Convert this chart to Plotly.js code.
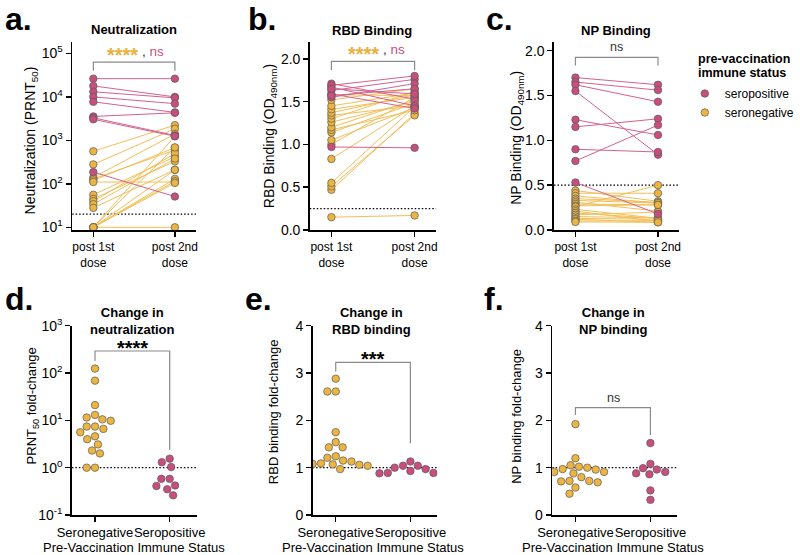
<!DOCTYPE html>
<html><head><meta charset="utf-8">
<script src="https://cdn.plot.ly/plotly-3.0.1.min.js"></script>
<style>html,body{margin:0;padding:0;background:#fff}</style>
</head><body><div id="chart" style="width:800px;height:555px"></div>
<script>
// ---------------- DATA ----------------
const doseLabels = ['post 1st<br>dose', 'post 2nd<br>dose'];
const groupLabels = ['Seronegative', 'Seropositive'];
const seriesNames = ['seropositive', 'seronegative'];

// a. Neutralization (PRNT50)
const neutPos1 = [26300, 17900, 13100, 10000, 7700, 3550, 3300, 3050, 186];
const neutPos2 = [26300, 10000, 9500, 7000, 4400, 4300, 1300, 1250, 51];
const neutNeg1 = [560, 280, 140, 130, 120, 110, 56, 45, 40, 34, 28, 10, 10, 10, 10, 10, 10, 10];
const neutNeg2 = [2240, 1850, 1400, 600, 680, 110, 420, 330, 500, 380, 210, 1240, 690, 210, 130, 115, 105, 10];
const neutExps = [1, 2, 3, 4, 5];
const neutThreshold = 20;

// b. RBD Binding (OD490nm)
const rbdPos1 = [1.71, 1.67, 1.63, 1.59, 1.55, 1.69, 1.57, 1.65, 0.97];
const rbdPos2 = [1.53, 1.45, 1.76, 1.42, 1.71, 1.80, 1.65, 1.59, 0.96];
const rbdNeg1 = [0.15, 0.47, 0.51, 0.55, 0.83, 1.00, 1.05, 1.14, 1.17, 1.20, 1.26, 1.30, 1.34, 1.37, 1.41, 1.45, 1.52, 1.58];
const rbdNeg2 = [0.17, 1.36, 1.34, 1.44, 1.45, 1.55, 1.43, 1.48, 1.40, 1.52, 1.50, 1.62, 1.45, 1.58, 1.55, 1.60, 1.65, 1.57];
const rbdThreshold = 0.25;

// c. NP Binding (OD490nm)
const npPos1 = [1.70, 1.65, 1.62, 1.55, 1.23, 1.15, 0.90, 0.77, 0.53];
const npPos2 = [1.62, 1.56, 1.43, 0.84, 1.06, 1.24, 0.87, 1.17, 0.18];
const npNeg1 = [0.44, 0.41, 0.38, 0.35, 0.33, 0.31, 0.29, 0.27, 0.26, 0.23, 0.21, 0.19, 0.17, 0.15, 0.13, 0.12, 0.10, 0.09];
const npNeg2 = [0.32, 0.41, 0.30, 0.31, 0.30, 0.21, 0.28, 0.28, 0.50, 0.13, 0.095, 0.13, 0.20, 0.135, 0.12, 0.086, 0.105, 0.086];
const npThreshold = 0.5;

// d. PRNT50 fold-change
const neutFoldNeg = [9.8, 5.6, 10.5, 7.4, 4.6, 3.1, 2.0, 1.0, 124, 69, 21, 13, 7.4, 4.0, 2.3, 1.0, 11.5, 6.6];
const neutFoldPos = [0.41, 0.26, 0.58, 1.3, 1.55, 1.03, 0.58, 0.35, 0.42];
const foldExps = [-1, 0, 1, 2, 3];

// e. RBD binding fold-change
const rbdFoldNeg = [2.88, 2.61, 2.61, 1.75, 1.54, 1.43, 1.43, 1.24, 1.21, 1.15, 1.13, 1.09, 1.08, 1.07, 1.06, 1.04, 1.04, 0.97];
const rbdFoldPos = [1.13, 1.04, 1.04, 1.0, 0.97, 0.93, 0.89, 0.89, 0.88];

// f. NP binding fold-change
const npFoldNeg = [1.92, 1.2, 1.05, 1.02, 1.0, 0.97, 0.96, 0.91, 0.91, 0.90, 0.88, 0.80, 0.72, 0.72, 0.71, 0.69, 0.58, 0.45];
const npFoldPos = [1.52, 1.08, 0.99, 0.96, 0.91, 0.88, 0.86, 0.52, 0.32];

// ---------------- STYLE / GEOMETRY ----------------
const F = '"Liberation Sans", Arial, Helvetica, sans-serif';
const W = 800, H = 555;
const px = v => v / W, py = v => 1 - v / H;
const COL = {pos: '#C84F7D', neg: '#ECB440', posLine: '#D4628E', negLine: '#F3BF58', edge: '#5a5a5a', bracket: '#8a8a8a'};
const MS = 7.5;

const topY = [41.7, 230], botY = [325.7, 515];
const topCats = [[95, 178], [337.3, 422], [585.7, 669.7]];
const botCats = [[96.7, 172.7], [341.7, 417.7], [585.7, 662]];
const topRange = [-0.26, 1.26], botRange = [-0.31, 1.36];
function dom(c, r) { const u = c[1] - c[0]; return [px(c[0] + r[0] * u), px(c[1] + (r[1] - 1) * u)]; }

const axBase = {
  showline: true, linecolor: '#000', linewidth: 1.6, ticks: 'outside', ticklen: 5, tickwidth: 1.5,
  tickcolor: '#000', showgrid: false, zeroline: false, automargin: false, fixedrange: true, tickangle: 0,
  tickfont: {family: F, size: 14, color: '#000'}
};
const powLabels = exps => exps.map(e => '10<sup>' + e + '</sup>');

const layout = {
  width: W, height: H, margin: {l: 0, r: 0, t: 0, b: 0},
  paper_bgcolor: '#fff', plot_bgcolor: '#fff', font: {family: F, color: '#000'},
  showlegend: true, hovermode: false,
  legend: {
    x: px(697), y: py(79), xanchor: 'left', yanchor: 'top', bgcolor: 'rgba(0,0,0,0)',
    font: {family: F, size: 12, color: '#000'}, tracegroupgap: 0, itemwidth: 30
  },
  annotations: [], shapes: []
};

// x axes
[0, 1, 2].forEach(i => {
  layout['xaxis' + (i === 0 ? '' : i + 1)] = Object.assign({}, axBase, {
    domain: dom(topCats[i], topRange), range: topRange, anchor: 'y' + (i === 0 ? '' : i + 1),
    tickvals: [0, 1], ticktext: doseLabels, tickfont: {family: F, size: 12, color: '#000'}
  });
  layout['xaxis' + (i + 4)] = Object.assign({}, axBase, {
    domain: dom(botCats[i], botRange), range: botRange, anchor: 'y' + (i + 4),
    tickvals: [0, 1], ticktext: groupLabels, tickfont: {family: F, size: 13, color: '#000'}
  });
});
// y axes
const topDom = [py(topY[1]), py(topY[0])], botDom = [py(botY[1]), py(botY[0])];
layout.yaxis = Object.assign({}, axBase, {domain: topDom, anchor: 'x', type: 'log', range: [0.938, 5.27],
  tickvals: neutExps.map(e => Math.pow(10, e)), ticktext: powLabels(neutExps)});
layout.yaxis2 = Object.assign({}, axBase, {domain: topDom, anchor: 'x2', range: [0, 2.2],
  tickvals: [0, 0.5, 1, 1.5, 2], tickformat: '.1f'});
layout.yaxis3 = Object.assign({}, axBase, {domain: topDom, anchor: 'x3', range: [0, 2.1],
  tickvals: [0, 0.5, 1, 1.5, 2], tickformat: '.1f'});
layout.yaxis4 = Object.assign({}, axBase, {domain: botDom, anchor: 'x4', type: 'log', range: [-1, 3],
  tickvals: foldExps.map(e => Math.pow(10, e)), ticktext: powLabels(foldExps)});
layout.yaxis5 = Object.assign({}, axBase, {domain: botDom, anchor: 'x5', range: [0, 4], tickvals: [0, 1, 2, 3, 4]});
layout.yaxis6 = Object.assign({}, axBase, {domain: botDom, anchor: 'x6', range: [0, 4], tickvals: [0, 1, 2, 3, 4]});

// ---------------- TRACES ----------------
const traces = [];
function ax(i) { return {xaxis: 'x' + (i === 1 ? '' : i), yaxis: 'y' + (i === 1 ? '' : i)}; }

function pairLines(a, b, color, i) {
  const xs = [], ys = [];
  a.forEach((v, k) => { xs.push(0, 1, null); ys.push(v, b[k], null); });
  traces.push(Object.assign({type: 'scatter', mode: 'lines', x: xs, y: ys, showlegend: false,
    hoverinfo: 'skip', line: {color: color, width: 1}}, ax(i)));
}
function pairMarkers(a, b, color, i) {
  traces.push(Object.assign({type: 'scatter', mode: 'markers',
    x: a.map(() => 0).concat(b.map(() => 1)), y: a.concat(b), showlegend: false, hoverinfo: 'skip',
    marker: {size: MS, color: color, line: {color: COL.edge, width: 0.7}}}, ax(i)));
}
function refLine(yv, range, i) {
  traces.push(Object.assign({type: 'scatter', mode: 'lines', x: range, y: [yv, yv], showlegend: false,
    hoverinfo: 'skip', line: {color: '#000', width: 1.2, dash: '1.5px,2px'}}, ax(i)));
}
function bracket(yl, yt, yr, i) {
  traces.push(Object.assign({type: 'scatter', mode: 'lines', x: [0, 0, 1, 1], y: [yl, yt, yt, yr],
    showlegend: false, hoverinfo: 'skip', line: {color: COL.bracket, width: 1.2}}, ax(i)));
}
// beeswarm offsets computed in pixel space
function swarm(vals, toPx, unitPx, diam) {
  const order = vals.map((v, k) => k).sort((p, q) => vals[q] - vals[p]);
  const placed = [], off = new Array(vals.length);
  order.forEach(k => {
    const y = toPx(vals[k]);
    let c = 0;
    for (let s = 0; s < 2000; s++) {
      c = (s % 2 === 1 ? -1 : 1) * Math.ceil(s / 2) * 0.5;
      if (placed.every(p => (p.x - c) * (p.x - c) + (p.y - y) * (p.y - y) >= diam * diam)) break;
    }
    placed.push({x: c, y: y});
    off[k] = c / unitPx;
  });
  return off;
}
function swarmTrace(vals, center, color, i, isLog, name, rank, showLeg) {
  const decade = (botY[1] - botY[0]) / 4;
  const toPx = isLog ? v => Math.log10(v) * decade : v => v * decade;
  const offs = swarm(vals, toPx, botCats[0][1] - botCats[0][0], 8.5);
  traces.push(Object.assign({type: 'scatter', mode: 'markers', name: name, legendrank: rank,
    x: offs.map(o => center + o), y: vals, showlegend: showLeg, hoverinfo: 'skip',
    marker: {size: MS, color: color, line: {color: COL.edge, width: 0.7}}}, ax(i)));
}

// a
refLine(neutThreshold, topRange, 1);
bracket(Math.pow(10, 4.6), Math.pow(10, 4.8), Math.pow(10, 4.6), 1);
pairLines(neutNeg1, neutNeg2, COL.negLine, 1);
pairLines(neutPos1, neutPos2, COL.posLine, 1);
pairMarkers(neutNeg1, neutNeg2, COL.neg, 1);
pairMarkers(neutPos1, neutPos2, COL.pos, 1);
// b
refLine(rbdThreshold, topRange, 2);
bracket(1.87, 1.97, 1.87, 2);
pairLines(rbdNeg1, rbdNeg2, COL.negLine, 2);
pairLines(rbdPos1, rbdPos2, COL.posLine, 2);
pairMarkers(rbdNeg1, rbdNeg2, COL.neg, 2);
pairMarkers(rbdPos1, rbdPos2, COL.pos, 2);
// c
refLine(npThreshold, topRange, 3);
bracket(1.835, 1.925, 1.835, 3);
pairLines(npNeg1, npNeg2, COL.negLine, 3);
pairLines(npPos1, npPos2, COL.posLine, 3);
pairMarkers(npNeg1, npNeg2, COL.neg, 3);
pairMarkers(npPos1, npPos2, COL.pos, 3);
// d
refLine(1, botRange, 4);
bracket(Math.pow(10, 2.254), Math.pow(10, 2.465), Math.pow(10, 0.373), 4);
swarmTrace(neutFoldNeg, 0, COL.neg, 4, true, seriesNames[1], 2, true);
swarmTrace(neutFoldPos, 1, COL.pos, 4, true, seriesNames[0], 1, true);
// e
refLine(1, botRange, 5);
bracket(3.03, 3.226, 1.515, 5);
swarmTrace(rbdFoldNeg, 0, COL.neg, 5, false, seriesNames[1], 2, false);
swarmTrace(rbdFoldPos, 1, COL.pos, 5, false, seriesNames[0], 1, false);
// f
refLine(1, botRange, 6);
bracket(2.113, 2.267, 1.69, 6);
swarmTrace(npFoldNeg, 0, COL.neg, 6, false, seriesNames[1], 2, false);
swarmTrace(npFoldPos, 1, COL.pos, 6, false, seriesNames[0], 1, false);

// ---------------- TEXT ----------------
function note(text, x, y, size, opts) {
  layout.annotations.push(Object.assign({text: text, x: px(x), y: py(y), xref: 'paper', yref: 'paper',
    showarrow: false, xanchor: 'center', yanchor: 'middle', font: {family: F, size: size, color: '#000'}}, opts || {}));
}
// panel letters
[['a.', 3, 19], ['b.', 250, 19], ['c.', 493, 19], ['d.', 3, 299], ['e.', 247, 299], ['f.', 491, 299]]
  .forEach(l => note('<b>' + l[0] + '</b>', l[1], l[2], 32, {xanchor: 'left'}));
// titles
note('<b>Neutralization</b>', 136, 29, 13);
note('<b>RBD Binding</b>', 379, 30, 13);
note('<b>NP Binding</b>', 627, 30, 13);
note('<b>Change in<br>neutralization</b>', 135, 320.5, 13);
note('<b>Change in<br>RBD binding</b>', 378, 321, 13);
note('<b>Change in<br>NP binding</b>', 624, 320.5, 13);
// legend title
note('<b>pre-vaccination</b>', 708, 58.5, 12.5, {xanchor: 'left'});
note('<b>immune status</b>', 708, 73, 12.5, {xanchor: 'left'});
// y titles
note('Neutralization (PRNT<sub>50</sub>)', 32, 140, 14, {textangle: -90});
note('RBD Binding (OD<sub>490nm</sub>)', 275, 136, 14, {textangle: -90});
note('NP Binding (OD<sub>490nm</sub>)', 526, 138, 14, {textangle: -90});
note('PRNT<sub>50</sub> fold-change', 33, 406, 13, {textangle: -90});
note('RBD binding fold-change', 278, 412, 13, {textangle: -90});
note('NP binding fold-change', 525, 416, 13, {textangle: -90});
// x titles
note('Pre-Vaccination Immune Status', 136, 547, 13);
note('Pre-Vaccination Immune Status', 380, 547, 13);
note('Pre-Vaccination Immune Status', 624, 547, 13);
// significance
const ORANGE_TXT = '#ECB03A', PINK_TXT = '#C84F7D';
note('<b>****</b>', 142, 55.5, 20, {xanchor: 'right', font: {family: F, size: 20, color: ORANGE_TXT}});
note('<span style="color:#333">, </span><span style="color:' + PINK_TXT + '">ns</span>', 142, 51.5, 13.5, {xanchor: 'left'});
note('<b>****</b>', 388, 53.5, 20, {xanchor: 'right', font: {family: F, size: 20, color: ORANGE_TXT}});
note('<span style="color:#333">, </span><span style="color:' + PINK_TXT + '">ns</span>', 388, 49.5, 13.5, {xanchor: 'left'});
note('ns', 627, 47, 12.5, {font: {family: F, size: 12.5, color: '#333'}});
note('<b>****</b>', 135, 348, 20);
note('<b>***</b>', 380, 359, 20);
note('ns', 624, 398, 12.5, {font: {family: F, size: 12.5, color: '#333'}});

Plotly.newPlot('chart', traces, layout, {staticPlot: true, displayModeBar: false});
</script></body></html>
